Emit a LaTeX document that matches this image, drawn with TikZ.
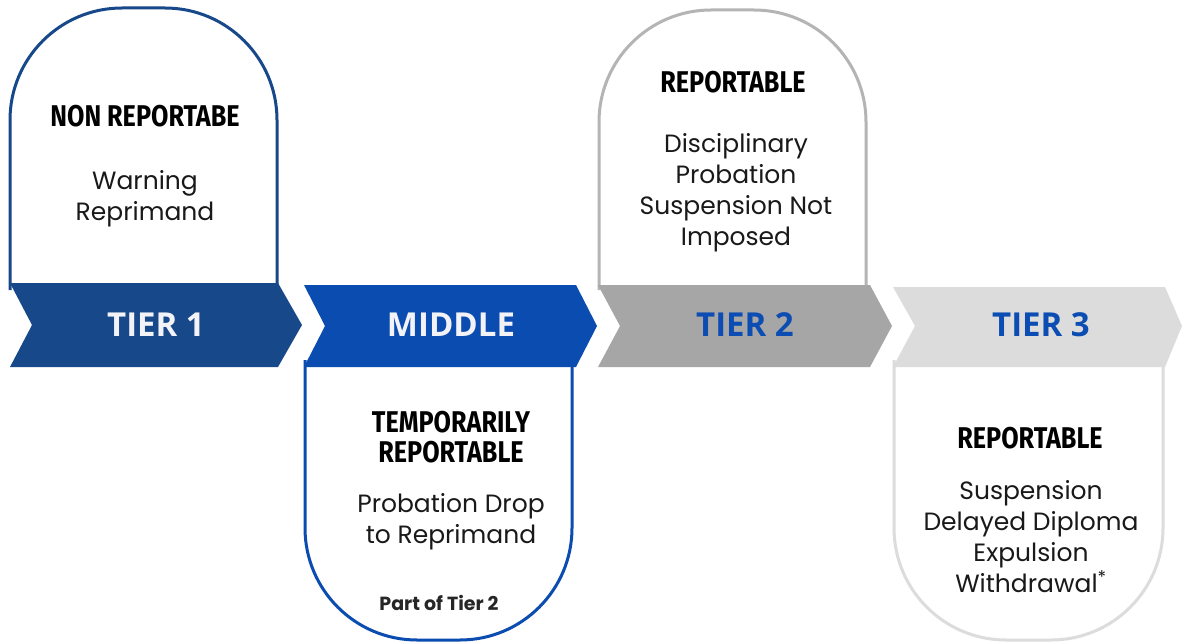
\documentclass[tikz,border=0pt]{standalone}
\usepackage{fontspec}
\setmainfont{Poppins}
\newfontfamily\headfont[FakeStretch=0.84]{Fira Sans}
\newfontfamily\bandfont{Open Sans}
\definecolor{darkblue}{HTML}{17488A}
\definecolor{midblue}{HTML}{0A4CB0}
\definecolor{midgray}{HTML}{A6A6A6}
\definecolor{cardgray}{HTML}{B4B4B4}
\definecolor{lightgray}{HTML}{DCDCDC}
\definecolor{txtblue}{HTML}{0B4DB2}
\definecolor{bandwhite}{HTML}{F2F2F7}
\begin{document}
\begin{tikzpicture}[x=1pt,y=-1pt,
  card/.style={line width=3pt, fill=white, rounded corners=112pt},
  head/.style={font=\headfont\bfseries\fontsize{30}{30}\selectfont, align=center, text=black, inner sep=0pt},
  body/.style={font=\fontsize{25}{31}\selectfont, align=center, text=black!90, inner sep=0pt},
  small/.style={font=\bfseries\fontsize{19}{20}\selectfont, align=center, text=black!85, inner sep=0pt},
  bandlbl/.style={font=\bandfont\bfseries\fontsize{33}{34}\selectfont, inner sep=0pt}]
\useasboundingbox (0,0) rectangle (1182,644);
\fill[white] (0,0) rectangle (1182,644);

% cards
\draw[card, draw=darkblue] (10,290) -- (10,8) -- (277,8) -- (277,290);
\draw[card, draw=cardgray] (599,290) -- (599,10) -- (866,10) -- (866,290);
\draw[card, draw=midblue] (305,360) -- (305,640) -- (572,640) -- (572,360);
\draw[card, draw=lightgray] (894,360) -- (894,640) -- (1163,640) -- (1163,360);

% bands
\fill[darkblue] (10,283) -- (278,283) -- (302,325) -- (278,367) -- (10,367) -- (32,325) -- cycle;
\fill[midblue] (304,285) -- (576,285) -- (597,326) -- (576,367) -- (304,367) -- (325,326) -- cycle;
\fill[midgray] (598,285) -- (870,285) -- (892,326) -- (870,367) -- (598,367) -- (620,326) -- cycle;
\fill[lightgray] (893,287) -- (1165,287) -- (1182,326) -- (1165,367) -- (893,367) -- (915,326) -- cycle;

% band labels
\node[bandlbl, text=bandwhite] (t1) at (156,325) {TIER 1};
\node[bandlbl, text=bandwhite] (mid) at (451,325) {MIDDLE};
\node[bandlbl, text=txtblue] (t2) at (745,325) {TIER 2};
\node[bandlbl, text=txtblue] (t3) at (1041,325) {TIER 3};

% tier 1 text
\node[head] (h1) at (145,116) {NON REPORTABE};
\node[body] (b1) at (145,199) {Warning\\Reprimand};

% middle text
\node[head] (hm) at (451,437) {TEMPORARILY\\REPORTABLE};
\node[body] (bm) at (451,522) {Probation Drop\\to Reprimand};
\node[small] (sm) at (439,603) {Part of Tier 2};

% tier 2 text
\node[head] (h2) at (733,82) {REPORTABLE};
\node[body] (b2) at (736,193) {Disciplinary\\Probation\\Suspension Not\\Imposed};

% tier 3 text
\node[head] (h3) at (1030,438) {REPORTABLE};
\node[body] (b3) at (1031,537) {Suspension\\Delayed Diploma\\Expulsion\\Withdrawal\textsuperscript{*}};
\end{tikzpicture}
\end{document}
